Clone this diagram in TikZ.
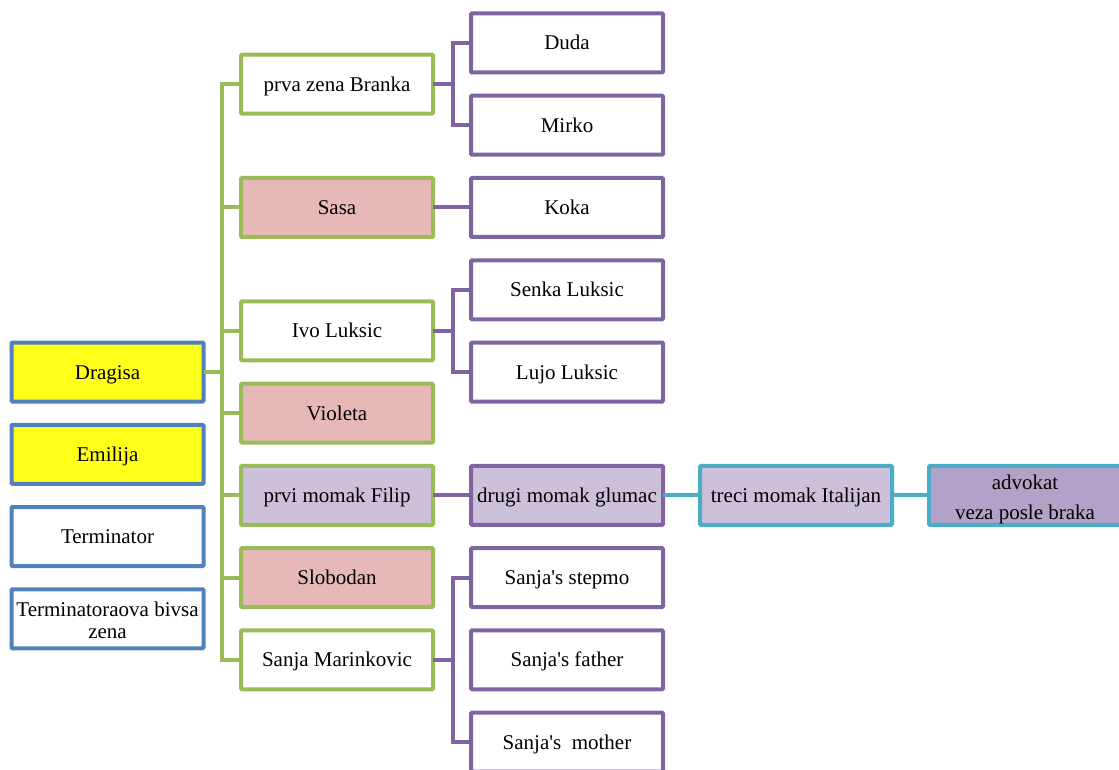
\documentclass[tikz,border=0pt]{standalone}
\usepackage{fontspec}
\setmainfont{Liberation Serif}
\usetikzlibrary{positioning,calc}
\definecolor{famgreen}{HTML}{9BBB59}
\definecolor{fampurple}{HTML}{8064A2}
\definecolor{famblue}{HTML}{4F81BD}
\definecolor{famcyan}{HTML}{4BACC6}
\definecolor{famrose}{HTML}{E6B9B8}
\definecolor{famlilac}{HTML}{CCC0DA}
\definecolor{famplum}{HTML}{B3A2C7}
\definecolor{famyellow}{HTML}{FFFF1A}
\tikzset{
boxbase/.style={draw,line width=4pt,rounded corners=1pt,fill=white,minimum width=192pt,minimum height=59pt,
  inner sep=1pt,outer sep=0pt,align=center,font=\fontsize{21}{22}\selectfont},
box/.style={boxbase,execute at begin node=\rule{0pt}{19pt},execute at end node=\rule[-5pt]{0pt}{0pt}},
rootbox/.style={box,draw=famblue},
partbox/.style={box,draw=famgreen},
kidbox/.style={box,draw=fampurple},
nextbox/.style={box,draw=famcyan},
greenline/.style={draw=famgreen,line width=4pt},
kidline/.style={draw=fampurple,line width=4pt},
nextline/.style={draw=famcyan,line width=4pt}
}
\begin{document}
\begin{tikzpicture}[x=1pt,y=-1pt,node distance=23.25pt]
\useasboundingbox (0,0) rectangle (1119,770);
\clip (0,0) rectangle (1119,770);
\node[kidbox] (duda) at (567,43) {Duda};
\node[kidbox,below=of duda] (mirko) {Mirko};
\node[kidbox,below=of mirko] (koka) {Koka};
\node[kidbox,below=of koka] (senka) {Senka Luksic};
\node[kidbox,below=of senka] (lujo) {Lujo Luksic};
\coordinate (bm) at ($(duda)!.5!(mirko)$);
\coordinate (im) at ($(senka)!.5!(lujo)$);
\node[partbox,left=134pt of bm] (branka) {prva zena Branka};
\node[partbox,fill=famrose,left=38pt of koka] (sasa) {Sasa};
\node[partbox,left=134pt of im] (ivo) {Ivo Luksic};
\node[partbox,fill=famrose,below=of ivo] (violeta) {Violeta};
\node[partbox,fill=famlilac,below=of violeta] (filip) {prvi momak Filip};
\node[partbox,fill=famrose,below=of filip] (slobodan) {Slobodan};
\node[partbox,below=of slobodan] (sanjam) {Sanja Marinkovic};
\node[kidbox,fill=famlilac,right=38pt of filip] (glumac) {drugi momak glumac};
\node[kidbox,below=of glumac] (stepmo) {Sanja\textquotesingle s stepmo};
\node[kidbox,below=of stepmo] (father) {Sanja\textquotesingle s father};
\node[kidbox,below=of father] (mother) {Sanja\textquotesingle s\ \ mother};
\node[nextbox,fill=famlilac,right=37pt of glumac] (treci) {treci momak Italijan};
\node[boxbase,draw=famcyan,fill=famplum,right=37pt of treci] (advokat) {\rule{0pt}{22pt}advokat\\[8pt]veza posle braka};
\node[rootbox,fill=famyellow] (dragisa) at (107.5,372) {Dragisa};
\node[rootbox,fill=famyellow,below=of dragisa] (emilija) {Emilija};
\node[rootbox,below=of emilija] (terminator) {Terminator};
\node[rootbox,below=of terminator] (bivsa) {\rule{0pt}{23pt}Terminatoraova bivsa\\zena};
\draw[greenline] (dragisa.east) -- ++(19pt,0);
\draw[greenline] (branka.west) -- ++(-19pt,0) |- (sanjam.west);
\foreach \n in {sasa,ivo,violeta,filip,slobodan}
  \draw[greenline] (\n.west) -- ++(-19pt,0);
\draw[kidline] (branka.east) -- ++(20pt,0);
\draw[kidline] (duda.west) -- ++(-18pt,0) |- (mirko.west);
\draw[kidline] (sasa.east) -- (koka.west);
\draw[kidline] (ivo.east) -- ++(20pt,0);
\draw[kidline] (senka.west) -- ++(-18pt,0) |- (lujo.west);
\draw[kidline] (filip.east) -- (glumac.west);
\draw[kidline] (sanjam.east) -- ++(20pt,0);
\draw[kidline] (stepmo.west) -- ++(-18pt,0) |- (mother.west);
\draw[nextline] (glumac.east) -- (treci.west);
\draw[nextline] (treci.east) -- (advokat.west);
\end{tikzpicture}
\end{document}
